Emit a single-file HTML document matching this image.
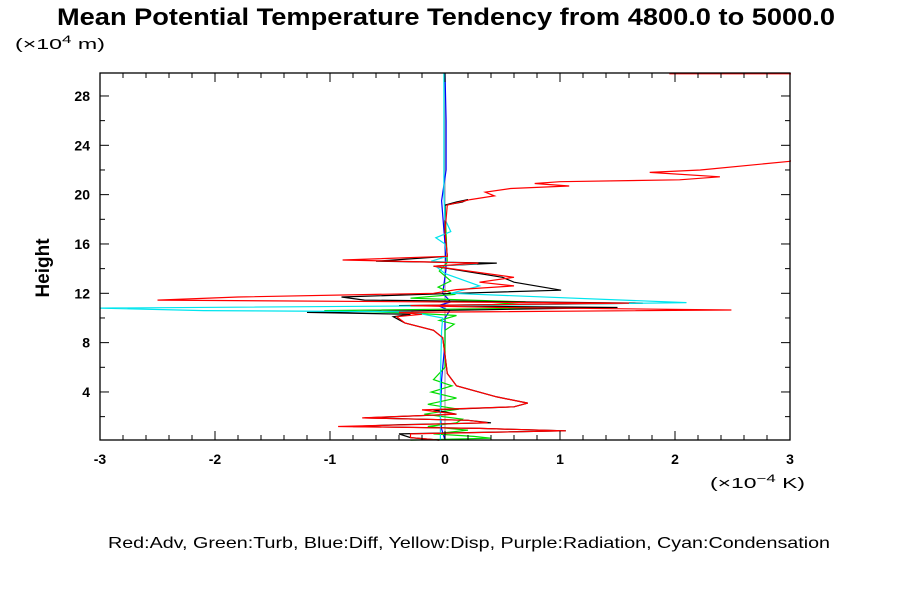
<!DOCTYPE html>
<html><head><meta charset="utf-8"><style>
body{margin:0;background:#fff;}
svg text{font-family:"Liberation Sans",sans-serif;}
</style></head><body>
<svg id="chart" width="900" height="600" xmlns="http://www.w3.org/2000/svg">
<rect width="900" height="600" fill="#fff"/>
<text x="57" y="25" font-size="24" font-weight="bold" textLength="778" lengthAdjust="spacingAndGlyphs">Mean Potential Temperature Tendency from 4800.0 to 5000.0</text>
<text x="15" y="49" font-size="15" textLength="90" lengthAdjust="spacingAndGlyphs">(×10<tspan dy="-6" font-size="11">4</tspan><tspan dy="6">  m)</tspan></text>
<text transform="translate(49,268) rotate(-90)" font-size="19" font-weight="bold" text-anchor="middle">Height</text>
<text x="710" y="488" font-size="15" textLength="95" lengthAdjust="spacingAndGlyphs">(×10<tspan dy="-6" font-size="11">−4</tspan><tspan dy="6">  K)</tspan></text>
<text x="108" y="548" font-size="16" textLength="722" lengthAdjust="spacingAndGlyphs">Red:Adv, Green:Turb, Blue:Diff, Yellow:Disp, Purple:Radiation, Cyan:Condensation</text>
<defs><clipPath id="pc"><rect x="99" y="72" width="692" height="369"/></clipPath></defs>
<g id="series" clip-path="url(#pc)"></g>
<g id="axes"></g>
</svg>
<script>
const xTicks=[-3,-2,-1,0,1,2,3];
const yTicks=[4,8,12,16,20,24,28];
const redH=[29.8,29.8,25,22.7,22.0,21.8,21.45,21.2,21.05,20.9,20.7,20.5,20.2,19.9,19.6,19.15,17,15,14.7,14.45,14.2,13.3,12.9,12.6,12.3,12.0,11.7,11.45,11.2,11.0,10.85,10.65,10.45,10.3,10.1,9.6,9.0,8.4,7,5.5,4.5,3.6,3.1,2.8,2.55,2.2,1.9,1.7,1.5,1.35,1.2,1.05,0.85,0.6,0.3,0.1];
const redV=[1.95,3.6,3.6,3.0,2.22,1.78,2.39,2.04,1.0,0.78,1.08,0.57,0.35,0.43,0.22,0.02,0.0,0.02,-0.89,0.29,-0.1,0.6,0.3,0.6,0.1,-0.1,-1.8,-2.5,1.6,-0.3,0.5,2.49,-0.4,-0.2,-0.42,-0.35,-0.1,-0.02,0.0,0.02,0.1,0.45,0.72,0.6,-0.2,0.1,-0.72,0.2,0.37,-0.3,-0.93,0.3,1.05,-0.3,-0.3,-0.05];
const blackH=[19.15,19.4,19.6,19.4,19.15,17,15,14.6,14.45,14.2,13.3,12.9,12.25,12.0,11.7,11.45,11.2,11.0,10.85,10.65,10.45,10.3,10.1,9.6,9.0,8.4,7,5.5,4.5,3.6,3.1,2.8,2.55,2.2,1.9,1.7,1.5,1.35,1.2,1.05,0.85,0.6,0.3,0.1];
const blackV=[0.0,0.15,0.2,0.1,0.0,0.0,0.02,-0.6,0.45,-0.1,0.5,0.6,1.01,0.1,-0.9,-0.7,1.72,-0.4,1.5,0.2,-1.2,-0.3,-0.45,-0.35,-0.1,-0.02,0.0,0.02,0.1,0.45,0.72,0.6,-0.1,0.1,-0.7,0.2,0.4,-0.4,-0.8,0.3,1.05,-0.4,-0.3,-0.05];
const cyanH=[29.9,20,18,17,16.5,16,15,14.6,14.4,14.2,13.6,12.6,12.0,11.25,11.0,10.8,10.6,10.5,10.0,9.0,5,2,0.1];
const cyanV=[-0.01,-0.01,0.0,0.05,-0.08,0.0,0.02,-0.12,0.28,-0.08,0.0,0.3,0.05,2.1,0.2,-3.0,-2.1,-0.3,-0.02,-0.03,-0.04,-0.04,-0.04];
const greenH=[19.0,14.5,13.8,13.0,12.5,11.9,11.6,11.3,11.0,10.8,10.6,10.4,10.2,9.8,9.5,9.0,6.0,5.0,4.5,4.0,3.5,3.0,2.6,2.2,1.8,1.5,1.2,0.9,0.6,0.4,0.25,0.1];
const greenV=[0.0,0.02,-0.05,0.05,-0.06,0.08,-0.3,0.7,0.3,0.8,-1.05,-0.3,0.1,-0.05,0.08,0.0,0.0,-0.1,0.06,-0.12,0.1,-0.15,0.12,-0.18,0.15,0.1,-0.15,0.2,-0.1,0.25,0.4,-0.3];
const blueH=[29.9,26,22,19.5,16,14,12,11.3,11.0,10.6,10,8,5,2,1,0.1];
const blueV=[0.0,0.01,0.01,-0.03,0.0,0.01,-0.02,0.05,-0.06,0.04,0.0,0.0,-0.03,-0.04,-0.03,0.0];
const grayH=[0.1,29.9];
const grayV=[0.0,0.0];

const X=v=>445+115*v, Y=h=>441.3-12.333*h;
const NS="http://www.w3.org/2000/svg";
const sg=document.getElementById('series');
function draw(hs,vs,color,name){
  const p=document.createElementNS(NS,'polyline');
  p.setAttribute('points',hs.map((h,i)=>X(vs[i]).toFixed(1)+','+Y(h).toFixed(1)).join(' '));
  p.setAttribute('fill','none');p.setAttribute('stroke',color);p.setAttribute('stroke-width','1.2');
  
  
  sg.appendChild(p);
}
draw(grayH,grayV,'#b0a0b0','radiation-line');
draw(blueH,blueV,'#0000ff','diff-line');
draw(greenH,greenV,'#00dd00','turb-line');
draw(blackH,blackV,'#000','total-line');
draw(cyanH,cyanV,'#00e5ee','condensation-line');
draw(redH,redV,'#ff0000','adv-line');

const ax=document.getElementById('axes');
let s='<rect x="100" y="73" width="690" height="367" fill="none" stroke="#000" stroke-width="1.3"/>';
for(let i=0;i<=30;i++){const v=-3+i*0.2,x=X(v),L=(i%5==0)?9:5;
 s+=`<line x1="${x}" y1="440" x2="${x}" y2="${440-L}" stroke="#000"/><line x1="${x}" y1="73" x2="${x}" y2="${73+L}" stroke="#000"/>`;}
for(let h=2;h<=28;h+=2){const y=Y(h),L=(h%4==0)?9:5;
 s+=`<line x1="100" y1="${y}" x2="${100+L}" y2="${y}" stroke="#000"/><line x1="790" y1="${y}" x2="${790-L}" y2="${y}" stroke="#000"/>`;}
ax.innerHTML=s;
xTicks.forEach(v=>{const t=document.createElementNS(NS,'text');
 t.setAttribute('x',X(v));t.setAttribute('y',464);t.setAttribute('font-size','14');t.setAttribute('font-weight','bold');t.setAttribute('text-anchor','middle');
 
 
 t.textContent=v;ax.appendChild(t);});
yTicks.forEach(h=>{const t=document.createElementNS(NS,'text');
 t.setAttribute('x',90);t.setAttribute('y',Y(h)+5);t.setAttribute('font-size','14');t.setAttribute('font-weight','bold');t.setAttribute('text-anchor','end');
 
 
 t.textContent=h;ax.appendChild(t);});
</script>
</body></html>
